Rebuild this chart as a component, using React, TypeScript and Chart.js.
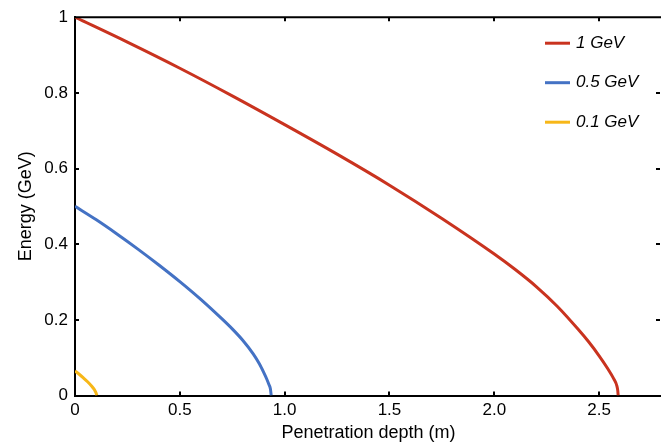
import { useEffect, useRef } from 'react';
import { Chart, registerables } from 'chart.js';

Chart.register(...registerables);

const seriesLabels = ['1 GeV', '0.5 GeV', '0.1 GeV'];
const seriesColors = ['#C9331F', '#4472C4', '#F7B718'];

const redDepth = [0, 0.25, 0.5, 0.75, 1.0, 1.25, 1.5, 1.75, 2.0, 2.1, 2.2, 2.3, 2.4, 2.45, 2.5, 2.54, 2.57, 2.585, 2.589, 2.591];
const redEnergy = [1.0, 0.934, 0.865, 0.792, 0.716, 0.638, 0.556, 0.468, 0.374, 0.333, 0.288, 0.236, 0.175, 0.142, 0.105, 0.072, 0.044, 0.025, 0.013, 0];

const blueDepth = [0, 0.1, 0.2, 0.3, 0.4, 0.5, 0.6, 0.7, 0.75, 0.8, 0.85, 0.88, 0.9, 0.915, 0.925, 0.932, 0.936];
const blueEnergy = [0.5, 0.465, 0.427, 0.387, 0.345, 0.301, 0.254, 0.203, 0.176, 0.146, 0.11, 0.083, 0.061, 0.043, 0.029, 0.018, 0];

const yellowDepth = [0, 0.02, 0.04, 0.06, 0.08, 0.09, 0.097, 0.101, 0.104];
const yellowEnergy = [0.065, 0.0562, 0.0466, 0.0363, 0.0245, 0.0173, 0.0107, 0.006, 0];

const xMin = 0;
const xMax = 2.8;
const xStep = 0.5;
const yMin = 0;
const yMax = 1;
const yStep = 0.2;

const FONT = '"Liberation Sans", Arial, Helvetica, sans-serif';

function toPoints(xs: number[], ys: number[]) {
  return xs.map((x, i) => ({ x, y: ys[i] }));
}

const framePlugin = {
  id: 'frameTicks',
  afterDraw(chart: any) {
    const { ctx, chartArea, scales } = chart;
    const { left, right, top, bottom } = chartArea;
    ctx.save();
    ctx.strokeStyle = '#000';
    ctx.lineWidth = 2;
    ctx.beginPath();
    ctx.moveTo(left - 1, top);
    ctx.lineTo(right + 1, top);
    ctx.stroke();
    const len = 4;
    scales.x.ticks.forEach((t: any) => {
      const px = Math.round(scales.x.getPixelForValue(t.value));
      if (Math.abs(px - left) < 2) return;
      ctx.beginPath();
      ctx.moveTo(px, bottom);
      ctx.lineTo(px, bottom - len);
      ctx.moveTo(px, top);
      ctx.lineTo(px, top + len);
      ctx.stroke();
    });
    scales.y.ticks.forEach((t: any) => {
      const py = Math.round(scales.y.getPixelForValue(t.value));
      if (Math.abs(py - bottom) < 2 || Math.abs(py - top) < 2) return;
      ctx.beginPath();
      ctx.moveTo(left, py);
      ctx.lineTo(left + len, py);
      ctx.moveTo(right - 2, py);
      ctx.lineTo(right - 2 - len, py);
      ctx.stroke();
    });
    ctx.font = `italic 17px ${FONT}`;
    ctx.textBaseline = 'middle';
    ctx.textAlign = 'left';
    chart.data.datasets.forEach((ds: any, i: number) => {
      const y = top + 26 + i * 39.5;
      ctx.strokeStyle = ds.borderColor;
      ctx.lineWidth = 3;
      ctx.beginPath();
      ctx.moveTo(right - 117, y);
      ctx.lineTo(right - 92, y);
      ctx.stroke();
      ctx.fillStyle = '#000';
      ctx.fillText(ds.label, right - 86, y);
    });
    ctx.restore();
  },
};

export default function App() {
  const ref = useRef<HTMLCanvasElement>(null);

  useEffect(() => {
    const canvas = ref.current;
    if (!canvas) return;
    const chart = new Chart(canvas, {
      type: 'line',
      data: {
        datasets: [
          { label: seriesLabels[0], data: toPoints(redDepth, redEnergy) },
          { label: seriesLabels[1], data: toPoints(blueDepth, blueEnergy) },
          { label: seriesLabels[2], data: toPoints(yellowDepth, yellowEnergy) },
        ].map((d, i) => ({
          ...d,
          borderColor: seriesColors[i],
          backgroundColor: seriesColors[i],
          borderWidth: 3,
          pointRadius: 0,
          fill: false,
          cubicInterpolationMode: 'monotone' as const,
        })),
      },
      options: {
        responsive: false,
        animation: false,
        layout: { padding: { left: 0, top: 17, right: 10, bottom: 0 } },
        plugins: { legend: { display: false }, tooltip: { enabled: false } },
        scales: {
          x: {
            type: 'linear',
            min: xMin,
            max: xMax,
            grid: { display: false, drawTicks: false },
            border: { display: true, color: '#000', width: 2 },
            ticks: {
              stepSize: xStep,
              color: '#000',
              padding: 5,
              font: { family: FONT, size: 17 },
              callback: (v: any) => (Number(v) === 0 ? '0' : Number(v).toFixed(1)),
            },
            afterBuildTicks: (s: any) => {
              s.ticks = s.ticks.filter((t: any) => Math.abs(t.value / xStep - Math.round(t.value / xStep)) < 1e-6);
            },
            afterFit: (s: any) => {
              s.height = 48.5;
            },
            title: {
              display: true,
              text: 'Penetration depth (m)',
              color: '#000',
              font: { family: FONT, size: 18 },
              padding: { top: 0, bottom: 0 },
            },
          },
          y: {
            type: 'linear',
            min: yMin,
            max: yMax,
            grid: { display: false, drawTicks: false },
            border: { display: true, color: '#000', width: 2 },
            ticks: {
              stepSize: yStep,
              color: '#000',
              padding: 7,
              font: { family: FONT, size: 17 },
              callback: (v: any) => {
                const n = Number(v);
                if (n === 0) return '0';
                if (Math.abs(n - 1) < 1e-9) return '1';
                return n.toFixed(1);
              },
            },
            afterFit: (s: any) => {
              s.width = 75;
            },
            title: {
              display: true,
              text: 'Energy (GeV)',
              color: '#000',
              font: { family: FONT, size: 18 },
              padding: { top: 15, bottom: 0 },
            },
          },
        },
      },
      plugins: [framePlugin],
    });
    return () => chart.destroy();
  }, []);

  return (
    <div style={{ position: 'fixed', left: 0, top: 0, width: 661, height: 444, overflow: 'hidden', background: '#fff' }}>
      <canvas ref={ref} width={672} height={444} style={{ display: 'block' }} />
    </div>
  );
}
